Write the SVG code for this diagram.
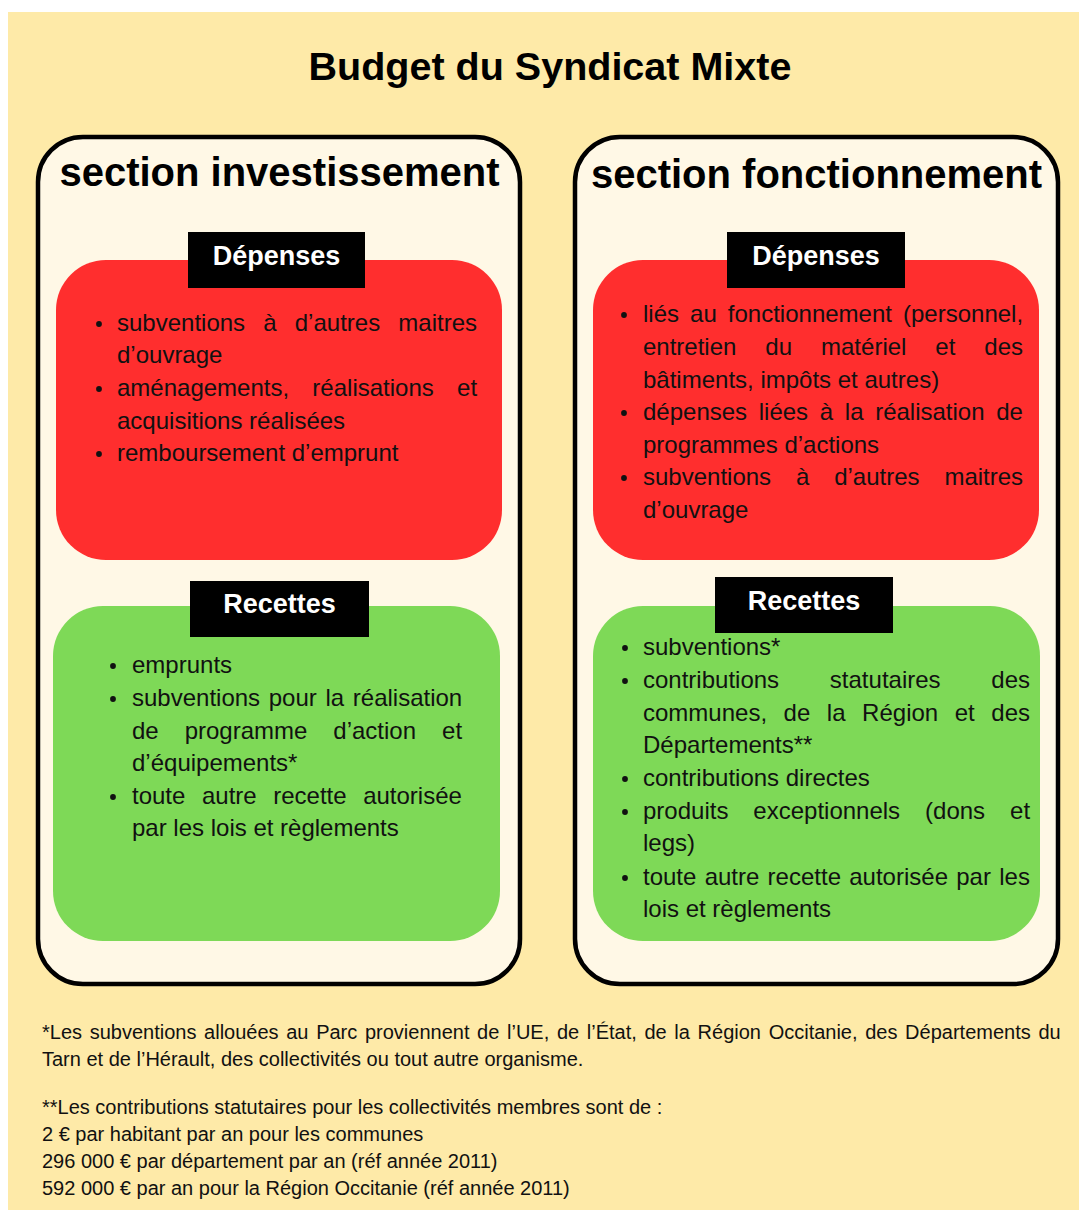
<svg xmlns="http://www.w3.org/2000/svg" width="1079" height="1212" viewBox="0 0 1079 1212">
<style>
text{font-family:"Liberation Sans",Arial,sans-serif;}
.b{font-size:24px;fill:#111;}
.h{font-weight:bold;fill:#000;}
.lbl{font-weight:bold;font-size:27px;fill:#fff;text-anchor:middle;}
.fn{font-size:20px;fill:#111;}
.panel{fill:#fff8e6;stroke:#000;stroke-width:4.5;}
.red{fill:#ff2e2e;}
.green{fill:#7ed957;}
.tag{fill:#000;}
.dot{fill:#111;}
</style>
<rect x="8" y="12" width="1071" height="1198" fill="#feeaa8"/>
<text class="h" x="550" y="80" font-size="39.5" text-anchor="middle">Budget du Syndicat Mixte</text>

<g id="section-investissement">
<rect class="panel" x="38" y="137" width="482" height="847" rx="45"/>
<text class="h" x="279.5" y="186" font-size="40" text-anchor="middle">section investissement</text>
</g>

<g id="section-fonctionnement">
<rect class="panel" x="575" y="137" width="483" height="847" rx="45"/>
<text class="h" x="816.5" y="188" font-size="40" text-anchor="middle">section fonctionnement</text>
</g>

<g id="inv-depenses">
<rect class="red" x="56" y="260" width="446" height="300" rx="50"/>
<rect class="tag" x="188" y="232" width="177" height="56"/>
<text class="lbl" x="276.5" y="265">Dépenses</text>
<circle class="dot" cx="99" cy="324" r="2.9"/>
<circle class="dot" cx="99" cy="389" r="2.9"/>
<circle class="dot" cx="99" cy="454" r="2.9"/>
<text class="b" x="117" y="331" word-spacing="11.5">subventions à d’autres maitres</text>
<text class="b" x="117" y="363">d’ouvrage</text>
<text class="b" x="117" y="396" word-spacing="16.6">aménagements, réalisations et</text>
<text class="b" x="117" y="429">acquisitions réalisées</text>
<text class="b" x="117" y="461">remboursement d’emprunt</text>
</g>

<g id="fonc-depenses">
<rect class="red" x="593" y="260" width="446" height="300" rx="50"/>
<rect class="tag" x="727" y="232" width="178" height="56"/>
<text class="lbl" x="816" y="265">Dépenses</text>
<circle class="dot" cx="624" cy="315" r="2.9"/>
<circle class="dot" cx="624" cy="413" r="2.9"/>
<circle class="dot" cx="624" cy="478" r="2.9"/>
<text class="b" x="643" y="322" word-spacing="4.4">liés au fonctionnement (personnel,</text>
<text class="b" x="643" y="355" word-spacing="22.3">entretien du matériel et des</text>
<text class="b" x="643" y="388">bâtiments, impôts et autres)</text>
<text class="b" x="643" y="420" word-spacing="5">dépenses liées à la réalisation de</text>
<text class="b" x="643" y="453">programmes d’actions</text>
<text class="b" x="643" y="485" word-spacing="18.2">subventions à d’autres maitres</text>
<text class="b" x="643" y="518">d’ouvrage</text>
</g>

<g id="inv-recettes">
<rect class="green" x="53" y="606" width="447" height="335" rx="50"/>
<rect class="tag" x="190" y="581" width="179" height="56"/>
<text class="lbl" x="279.5" y="613">Recettes</text>
<circle class="dot" cx="113" cy="666" r="2.9"/>
<circle class="dot" cx="113" cy="699" r="2.9"/>
<circle class="dot" cx="113" cy="797" r="2.9"/>
<text class="b" x="132" y="673">emprunts</text>
<text class="b" x="132" y="706" word-spacing="2">subventions pour la réalisation</text>
<text class="b" x="132" y="739" word-spacing="19.3">de programme d’action et</text>
<text class="b" x="132" y="771">d’équipements*</text>
<text class="b" x="132" y="804" word-spacing="9.9">toute autre recette autorisée</text>
<text class="b" x="132" y="836">par les lois et règlements</text>
</g>

<g id="fonc-recettes">
<rect class="green" x="593" y="606" width="447" height="335" rx="50"/>
<rect class="tag" x="715" y="577" width="178" height="56"/>
<text class="lbl" x="804" y="610">Recettes</text>
<circle class="dot" cx="625" cy="648" r="2.9"/>
<circle class="dot" cx="625" cy="681" r="2.9"/>
<circle class="dot" cx="625" cy="779" r="2.9"/>
<circle class="dot" cx="625" cy="812" r="2.9"/>
<circle class="dot" cx="625" cy="878" r="2.9"/>
<text class="b" x="643" y="655">subventions*</text>
<text class="b" x="643" y="688" word-spacing="44.1">contributions statutaires des</text>
<text class="b" x="643" y="721" word-spacing="9.9">communes, de la Région et des</text>
<text class="b" x="643" y="753">Départements**</text>
<text class="b" x="643" y="786">contributions directes</text>
<text class="b" x="643" y="819" word-spacing="18.3">produits exceptionnels (dons et</text>
<text class="b" x="643" y="851">legs)</text>
<text class="b" x="643" y="885" word-spacing="1.6">toute autre recette autorisée par les</text>
<text class="b" x="643" y="917">lois et règlements</text>
</g>

<g id="connectors"></g>

<g id="footnotes">
<text class="fn" x="42" y="1039" word-spacing="2.1">*Les subventions allouées au Parc proviennent de l’UE, de l’État, de la Région Occitanie, des Départements du</text>
<text class="fn" x="42" y="1066">Tarn et de l’Hérault, des collectivités ou tout autre organisme.</text>
<text class="fn" x="42" y="1114">**Les contributions statutaires pour les collectivités membres sont de :</text>
<text class="fn" x="42" y="1141">2 € par habitant par an pour les communes</text>
<text class="fn" x="42" y="1168">296 000 € par département par an (réf année 2011)</text>
<text class="fn" x="42" y="1195">592 000 € par an pour la Région Occitanie (réf année 2011)</text>
</g>
</svg>
